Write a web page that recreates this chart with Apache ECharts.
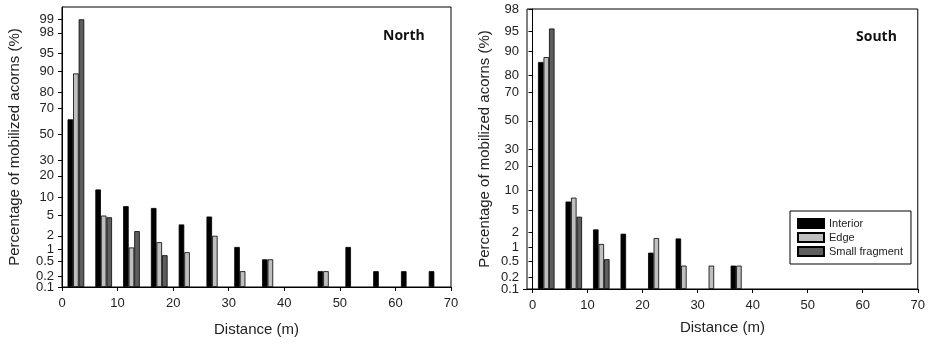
<!DOCTYPE html>
<html>
<head>
<meta charset="utf-8">
<script src="https://cdn.jsdelivr.net/npm/echarts@6/dist/echarts.min.js"></script>
<style>
  html, body { margin: 0; padding: 0; background: #fff; }
  #chart { width: 928px; height: 345px; }
</style>
</head>
<body>
<div id="chart"></div>
<script>
// Distance bins (m): each bin starts at this value
const binStarts = [0, 5, 10, 15, 20, 25, 30, 35, 40, 45, 50, 55, 60, 65];

// North: percentage of mobilized acorns per bin
const northInterior = [61.9, 13.2, 7.3, 6.8, 3.4, 4.8, 1.13, 0.57, null, 0.28, 1.13, 0.28, 0.28, 0.28];
const northEdge     = [89.1, 5.0, 1.1, 1.45, 0.85, 2.0, 0.28, 0.57, null, 0.28, null, null, null, null];
const northSmall    = [99.0, 4.65, 2.5, 0.72, null, null, null, null, null, null, null, null, null, null];

// South: percentage of mobilized acorns per bin
const southInterior = [86.0, 6.9, 2.3, 1.9, 0.77, 1.53, null, 0.39, null, null, null, null, null, null];
const southEdge     = [87.9, 7.9, 1.18, null, 1.56, 0.39, 0.39, 0.39, null, null, null, null, null, null];
const southSmall    = [95.5, 3.9, 0.55, null, null, null, null, null, null, null, null, null, null, null];

// Probability-scale tick labels (%); the 0.1 % floor is labelled separately
const floorTick = 0.1;
const northTicks = [0.2, 0.5, 1, 2, 5, 10, 20, 30, 50, 70, 80, 90, 95, 98, 99];
const southTicks = [0.2, 0.5, 1, 2, 5, 10, 20, 30, 50, 70, 80, 90, 95, 98];
const xTicks = [0, 10, 20, 30, 40, 50, 60, 70];

const seriesNames = ['Interior', 'Edge', 'Small fragment'];

// Inverse standard normal CDF (Acklam's rational approximation)
function probit(p) {
  const a = [-3.969683028665376e+01, 2.209460984245205e+02, -2.759285104469687e+02, 1.383577518672690e+02, -3.066479806614716e+01, 2.506628277459239e+00];
  const b = [-5.447609879822406e+01, 1.615858368580409e+02, -1.556989798598866e+02, 6.680131188771972e+01, -1.328068155288572e+01];
  const c = [-7.784894002430293e-03, -3.223964580411365e-01, -2.400758277161838e+00, -2.549732539343734e+00, 4.374664141464968e+00, 2.938163982698783e+00];
  const d = [7.784695709041462e-03, 3.224671290700398e-01, 2.445134137142996e+00, 3.754408661907416e+00];
  const pl = 0.02425, ph = 1 - pl;
  let q, r;
  if (p < pl) {
    q = Math.sqrt(-2 * Math.log(p));
    return (((((c[0]*q+c[1])*q+c[2])*q+c[3])*q+c[4])*q+c[5]) / ((((d[0]*q+d[1])*q+d[2])*q+d[3])*q+1);
  }
  if (p <= ph) {
    q = p - 0.5; r = q * q;
    return (((((a[0]*r+a[1])*r+a[2])*r+a[3])*r+a[4])*r+a[5])*q / (((((b[0]*r+b[1])*r+b[2])*r+b[3])*r+b[4])*r+1);
  }
  q = Math.sqrt(-2 * Math.log(1 - p));
  return -(((((c[0]*q+c[1])*q+c[2])*q+c[3])*q+c[4])*q+c[5]) / ((((d[0]*q+d[1])*q+d[2])*q+d[3])*q+1);
}

// Axis value = probit distance above the 0.1 % floor, so bars rise from the bottom
const floorZ = probit(floorTick / 100);
const toAxis = pct => probit(pct / 100) - floorZ;

const font = 'Liberation Sans, Arial, sans-serif';
const fills = ['#000000', '#bfbfbf', '#5e5e5e'];
const offsets = [1.5, 2.5, 3.5];

const W = 928;
const grids = [
  { left: 62, right: 477, top: 7, bottom: 58 },
  { left: 527, right: 10, top: 9, bottom: 56 }
];

function labelFor(ticks, vals) {
  return v => {
    let best = 0;
    vals.forEach((t, i) => { if (Math.abs(t - v) < Math.abs(vals[best] - v)) best = i; });
    return String(ticks[best]);
  };
}

function yAxisFor(ticks, maxPct, gridIndex, nameGap) {
  const vals = ticks.map(toAxis);
  return {
    type: 'value', gridIndex,
    min: 0, max: toAxis(maxPct),
    name: 'Percentage of mobilized acorns (%)',
    nameLocation: 'middle', nameGap,
    nameTextStyle: { fontFamily: font, fontSize: 15, color: '#222' },
    axisLine: { show: true, lineStyle: { color: '#000', width: 1 } },
    axisTick: { show: true, length: 4, customValues: vals, lineStyle: { color: '#000' } },
    axisLabel: {
      customValues: vals, margin: 8, fontFamily: font, fontSize: 13, color: '#222',
      showMinLabel: true, showMaxLabel: true, hideOverlap: false,
      formatter: labelFor(ticks, vals)
    },
    splitLine: { show: false }
  };
}

// Companion axis carrying only the 0.1 % floor label and tick
function floorAxisFor(maxPct, gridIndex) {
  const vals = [toAxis(floorTick)];
  return {
    type: 'value', gridIndex, position: 'left',
    min: 0, max: toAxis(maxPct),
    axisLine: { show: false },
    axisTick: { show: true, length: 4, customValues: vals, lineStyle: { color: '#000' } },
    axisLabel: {
      customValues: vals, margin: 8, fontFamily: font, fontSize: 13, color: '#222',
      showMinLabel: true, formatter: () => String(floorTick)
    },
    splitLine: { show: false }
  };
}

function xAxisFor(min, gridIndex, nameGap) {
  return {
    type: 'value', gridIndex, min, max: 70,
    name: 'Distance (m)', nameLocation: 'middle', nameGap,
    nameTextStyle: { fontFamily: font, fontSize: 15, color: '#222' },
    axisLine: { show: true, onZero: false, lineStyle: { color: '#000', width: 1 } },
    axisTick: { show: true, length: 4, customValues: xTicks, lineStyle: { color: '#000' } },
    axisLabel: { customValues: xTicks, margin: 10, fontFamily: font, fontSize: 13, color: '#222',
      showMinLabel: true, showMaxLabel: true },
    splitLine: { show: false }
  };
}

function barSeries(values, k, gridIndex, unitPx) {
  const data = [];
  values.forEach((v, i) => {
    if (v != null) data.push([binStarts[i] + offsets[k], toAxis(v)]);
  });
  return {
    type: 'bar', name: seriesNames[k],
    xAxisIndex: gridIndex, yAxisIndex: gridIndex,
    data, barWidth: unitPx, barGap: '-100%',
    itemStyle: { color: fills[k], borderColor: '#000', borderWidth: 0.8 },
    emphasis: { disabled: true }
  };
}

// one x unit (1 m) in pixels for each panel
const unitN = (W - grids[0].left - grids[0].right) / 70;
const unitS = (W - grids[1].left - grids[1].right) / 71;

const chart = echarts.init(document.getElementById('chart'), null, { renderer: 'canvas' });
chart.setOption({
  animation: false,
  backgroundColor: '#fff',
  title: [
    { text: 'North', left: 378, top: 24, textStyle: { fontFamily: 'Open Sans, sans-serif', fontWeight: 'bold', fontSize: 14, color: '#111' } },
    { text: 'South', left: 851, top: 25, textStyle: { fontFamily: 'Open Sans, sans-serif', fontWeight: 'bold', fontSize: 14, color: '#111' } }
  ],
  legend: {
    data: seriesNames, orient: 'vertical', left: 790, top: 211,
    icon: 'rect', itemWidth: 26, itemHeight: 9, itemGap: 3,
    padding: [7, 8, 7, 7],
    borderColor: '#000', borderWidth: 1,
    textStyle: { fontFamily: font, fontSize: 11, color: '#222' },
    selectedMode: false
  },
  grid: grids.map(g => Object.assign({ show: true, borderColor: '#000', borderWidth: 1, containLabel: false }, g)),
  xAxis: [xAxisFor(0, 0, 35), xAxisFor(-1, 1, 31)],
  yAxis: [
    yAxisFor(northTicks, 99.5, 0, 40),
    yAxisFor(southTicks, 98, 1, 35),
    floorAxisFor(99.5, 0),
    floorAxisFor(98, 1)
  ],
  series: [
    barSeries(northInterior, 0, 0, unitN),
    barSeries(northEdge, 1, 0, unitN),
    barSeries(northSmall, 2, 0, unitN),
    barSeries(southInterior, 0, 1, unitS),
    barSeries(southEdge, 1, 1, unitS),
    barSeries(southSmall, 2, 1, unitS)
  ]
});
</script>
</body>
</html>
